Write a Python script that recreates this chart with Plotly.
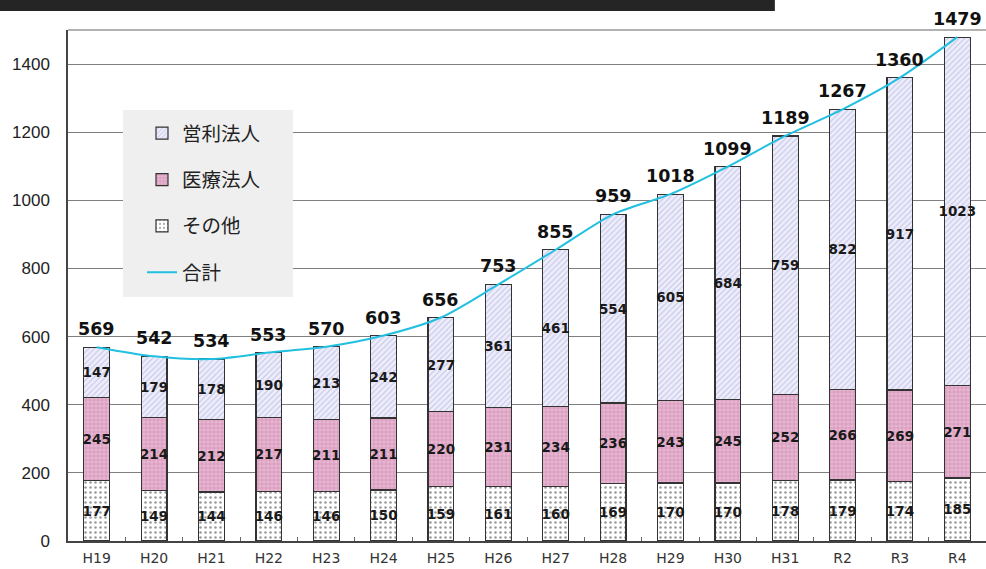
import plotly.graph_objects as go

categories = ["H19", "H20", "H21", "H22", "H23", "H24", "H25", "H26",
              "H27", "H28", "H29", "H30", "H31", "R2", "R3", "R4"]
other = [177, 149, 144, 146, 146, 150, 159, 161, 160, 169, 170, 170, 178, 179, 174, 185]
medical = [245, 214, 212, 217, 211, 211, 220, 231, 234, 236, 243, 245, 252, 266, 269, 271]
commercial = [147, 179, 178, 190, 213, 242, 277, 361, 461, 554, 605, 684, 759, 822, 917, 1023]
totals = [569, 542, 534, 553, 570, 603, 656, 753, 855, 959, 1018, 1099, 1189, 1267, 1360, 1479]

label_font = dict(family="DejaVu Sans", size=13.5, color="#1a1a1a", weight="bold")
bar_line = dict(color="#333333", width=1.2)

fig = go.Figure()

fig.add_trace(go.Bar(
    x=categories, y=other, name="その他", legendgroup="c", legendrank=3,
    text=[str(v) for v in other], textposition="inside", insidetextanchor="middle",
    textangle=0, constraintext="none", textfont=label_font,
    marker=dict(color="white", line=bar_line,
                pattern=dict(shape=".", fgcolor="#333333", bgcolor="white", size=5, solidity=0.2)),
))
fig.add_trace(go.Bar(
    x=categories, y=medical, name="医療法人", legendgroup="b", legendrank=2,
    text=[str(v) for v in medical], textposition="inside", insidetextanchor="middle",
    textangle=0, constraintext="none", textfont=label_font,
    marker=dict(color="#e2aacb", line=bar_line,
                pattern=dict(shape="+", fgcolor="#b56893", bgcolor="#e7b6d2", size=4, solidity=0.3)),
))
fig.add_trace(go.Bar(
    x=categories, y=commercial, name="営利法人", legendgroup="a", legendrank=1,
    text=[str(v) for v in commercial], textposition="inside", insidetextanchor="middle",
    textangle=0, constraintext="none", textfont=label_font,
    marker=dict(color="#ececfa", line=bar_line,
                pattern=dict(shape="/", fgcolor="#a4a4da", bgcolor="#eeeefb", size=4, solidity=0.3)),
))
fig.add_trace(go.Scatter(
    x=categories, y=totals, name="合計", legendgroup="d", legendrank=4,
    mode="lines", line=dict(color="#22c0e0", width=2, shape="spline", smoothing=0.8),
    cliponaxis=False,
))

for c, t in zip(categories, totals):
    fig.add_annotation(x=c, y=t, text="<b>%d</b>" % t, showarrow=False,
                       yanchor="bottom", yshift=6,
                       font=dict(family="DejaVu Sans", size=17.5, color="#111111"))

fig.update_layout(
    width=986, height=569,
    margin=dict(l=68, r=0, t=30, b=28, autoexpand=False),
    paper_bgcolor="white", plot_bgcolor="white",
    barmode="stack", bargap=0.55,
    showlegend=True,
    legend=dict(x=0.0806, y=0.8356, xanchor="left", yanchor="top",
                bgcolor="rgba(0,0,0,0)", borderwidth=0,
                font=dict(family="Noto Sans CJK JP", size=19.5, color="#222222"),
                tracegroupgap=18, itemwidth=30),
    font=dict(family="DejaVu Sans", color="#222222"),
    shapes=[
        dict(type="rect", xref="paper", yref="paper", x0=-0.08, x1=0.770, y0=1.037, y1=1.07,
             fillcolor="#252525", line=dict(width=0), layer="above"),
        dict(type="line", xref="paper", yref="paper", x0=0, x1=1, y0=1, y1=1,
             line=dict(color="#999999", width=1.5)),
        dict(type="rect", xref="paper", yref="paper", x0=0.0599, x1=0.245, y0=0.4775, y1=0.8434,
             fillcolor="#efefef", line=dict(width=0), layer="above"),
    ],
)
fig.update_xaxes(
    showline=True, linecolor="#444444", linewidth=1.5,
    ticks="inside", tickson="boundaries", ticklen=4, tickcolor="#666666",
    tickfont=dict(family="DejaVu Sans", size=14, color="#333333"),
    ticklabelstandoff=3,
    showgrid=False, range=[-0.5, 15.5],
)
fig.update_yaxes(
    range=[0, 1500], tickvals=[0, 200, 400, 600, 800, 1000, 1200, 1400],
    showgrid=True, gridcolor="#808080", gridwidth=1,
    showline=True, linecolor="#444444", linewidth=1.5,
    ticks="", zeroline=False, ticklabelstandoff=13,
    tickfont=dict(family="Liberation Sans", size=17, color="#222222"),
)

fig.write_html("out.html", config={"displayModeBar": False},
               post_script="document.body.style.margin='0';document.body.style.overflow='hidden';")
